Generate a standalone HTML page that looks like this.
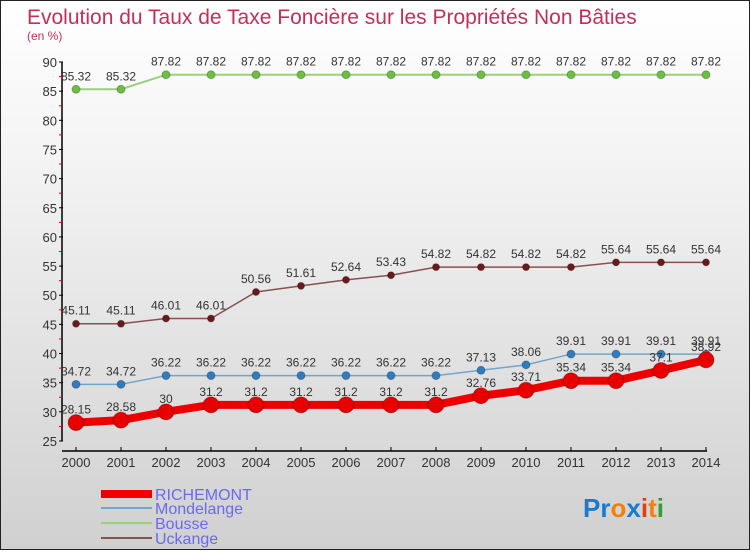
<!DOCTYPE html>
<html><head><meta charset="utf-8"><style>
body{margin:0;width:750px;height:550px;overflow:hidden;font-family:"Liberation Sans",sans-serif}
#wrap{position:relative;width:748px;height:548px;border:1px solid #222;background:linear-gradient(#fff,#f3f3f3 30%,#d0d0d0)}
</style></head><body>
<div id="wrap">
<svg id="chart" width="748" height="548">
<text x="26" y="23" font-size="21" fill="#c0305a">Evolution du Taux de Taxe Foncière sur les Propriétés Non Bâties</text>
<text x="26" y="39" font-size="12" fill="#c0305a">(en %)</text>
<g id="axes"></g><g id="series"></g>
<g>
<line x1="100" y1="493" x2="151" y2="493" stroke="#e00" stroke-width="8"/>
<text x="154" y="499" font-size="16" fill="#6a6aee">RICHEMONT</text>
<line x1="100" y1="507" x2="151" y2="507" stroke="#6fa6cc" stroke-width="2"/>
<text x="154" y="513" font-size="16" fill="#6a6aee">Mondelange</text>
<line x1="100" y1="522" x2="151" y2="522" stroke="#9ad07a" stroke-width="2"/>
<text x="154" y="528" font-size="16" fill="#6a6aee">Bousse</text>
<line x1="100" y1="537" x2="151" y2="537" stroke="#8a5050" stroke-width="2"/>
<text x="154" y="543" font-size="16" fill="#6a6aee">Uckange</text>
</g>
<text x="582" y="516" font-size="26" font-weight="bold"><tspan fill="#1a7ad0">Pr</tspan><tspan fill="#f08010">o</tspan><tspan fill="#1a7ad0">x</tspan><tspan fill="#e04010">i</tspan><tspan fill="#f08010">t</tspan><tspan fill="#30a030">i</tspan></text>
</svg></div>
<script>
const years=[2000,2001,2002,2003,2004,2005,2006,2007,2008,2009,2010,2011,2012,2013,2014];
const yTicks=[25,30,35,40,45,50,55,60,65,70,75,80,85,90];
const bousse=[85.32,85.32,87.82,87.82,87.82,87.82,87.82,87.82,87.82,87.82,87.82,87.82,87.82,87.82,87.82];
const uckange=[45.11,45.11,46.01,46.01,50.56,51.61,52.64,53.43,54.82,54.82,54.82,54.82,55.64,55.64,55.64];
const mondelange=[34.72,34.72,36.22,36.22,36.22,36.22,36.22,36.22,36.22,37.13,38.06,39.91,39.91,39.91,39.91];
const richemont=[28.15,28.58,30,31.2,31.2,31.2,31.2,31.2,31.2,32.76,33.71,35.34,35.34,37.1,38.92];
const NS="http://www.w3.org/2000/svg";
const xs=i=>75+i*45;
const ys=v=>440-(v-25)*(379/65);
function mk(t,a,p){const e=document.createElementNS(NS,t);for(const k in a)e.setAttribute(k,a[k]);p.appendChild(e);return e;}
const ax=document.getElementById('axes'),sg=document.getElementById('series');
let yl=mk('line',{x1:61,y1:61,x2:61,y2:440,stroke:'#000','stroke-width':1.5},ax);


yTicks.forEach(v=>{const y=ys(v);
mk('line',{x1:58,y1:y,x2:62,y2:y,stroke:'#000'},ax);
if(v<90)mk('line',{x1:58,y1:ys(v+2.5),x2:61,y2:ys(v+2.5),stroke:'#e00'},ax);
const t=mk('text',{x:56,y:y+5,'font-size':13,fill:'#333','text-anchor':'end'},ax);t.textContent=v;

});
let xl=mk('line',{x1:61,y1:450,x2:706,y2:450,stroke:'#000','stroke-width':1.5},ax);


years.forEach((yr,i)=>{mk('line',{x1:xs(i),y1:446,x2:xs(i),y2:450,stroke:'#000'},ax);
const t=mk('text',{x:xs(i),y:466,'font-size':13,fill:'#333','text-anchor':'middle'},ax);t.textContent=yr;

});
function series(name,data,col,w,r,dot){
const g=mk('g',{},sg);


mk('polyline',{points:data.map((v,i)=>xs(i)+','+ys(v)).join(' '),fill:'none',stroke:col,'stroke-width':w},g);
data.forEach((v,i)=>{const c=mk('circle',{cx:xs(i),cy:ys(v),r:r,fill:dot,stroke:'rgba(0,0,0,0.25)'},g);


const t=mk('text',{x:xs(i),y:ys(v)-9,'font-size':12,fill:'#333','text-anchor':'middle'},g);t.textContent=v;

});}
series('bousse',bousse,'#9ad07a',2,4,'#6cc040');
series('uckange',uckange,'#8a5050',1.5,3.5,'#6a1a1a');
series('mondelange',mondelange,'#6fa6cc',1.5,4,'#2f7cc0');
series('richemont',richemont,'#e00',8,8,'#e80000');
</script></body></html>
